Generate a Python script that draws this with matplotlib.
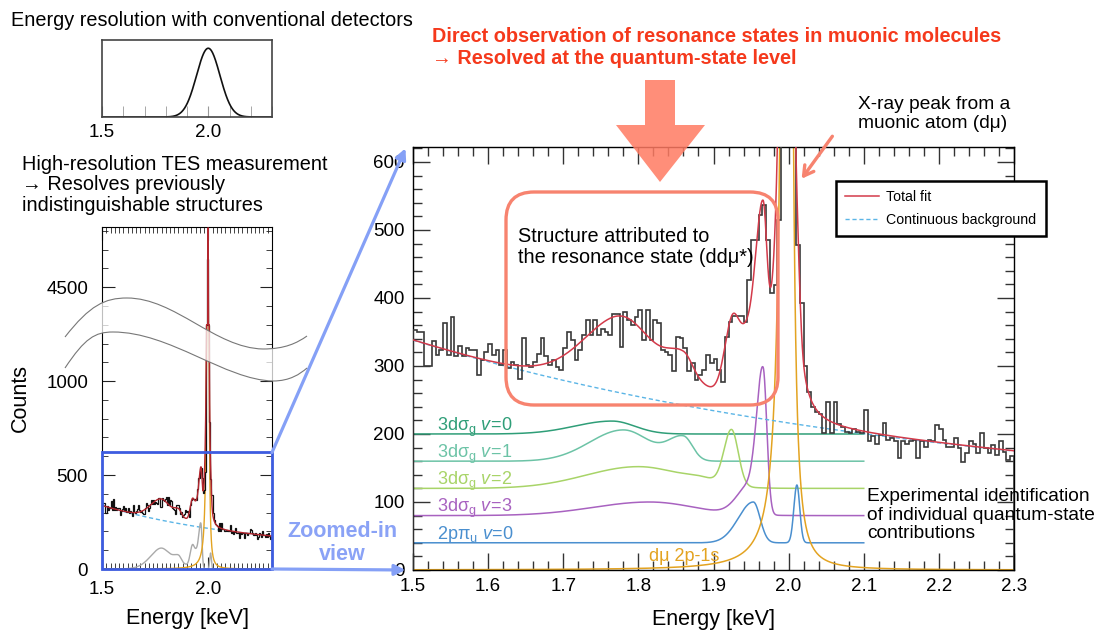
import numpy as np
import matplotlib
matplotlib.use("Agg")
import matplotlib.pyplot as plt
from matplotlib.patches import FancyBboxPatch, Polygon, FancyArrowPatch, PathPatch, Rectangle, ConnectionPatch
from matplotlib.lines import Line2D
from matplotlib.path import Path
from matplotlib.ticker import MultipleLocator, FixedLocator
import matplotlib.transforms as mtransforms

plt.rcParams['font.family'] = ['Liberation Sans', 'DejaVu Sans']
plt.rcParams['mathtext.fontset'] = 'custom'
plt.rcParams['mathtext.rm'] = 'Liberation Sans'
plt.rcParams['mathtext.it'] = 'Liberation Sans:italic'
plt.rcParams['mathtext.bf'] = 'Liberation Sans:bold'

# ---------------- data ----------------
E_MIN, E_MAX, BIN_W = 1.5, 2.3, 0.005
counts = [353, 350, 350, 300, 300, 336, 316, 323, 363, 316,
          372, 314, 330, 314, 327, 323, 323, 287, 309, 320,
          333, 316, 323, 301, 323, 297, 306, 301, 281, 341,
          301, 298, 306, 318, 341, 314, 301, 309, 299, 294,
          327, 350, 338, 309, 323, 345, 367, 345, 368, 345,
          355, 350, 345, 377, 377, 328, 380, 368, 360, 372,
          382, 338, 382, 338, 368, 363, 324, 320, 316, 292,
          343, 341, 326, 292, 304, 279, 287, 294, 316, 304,
          311, 294, 277, 343, 365, 373, 373, 373, 365, 426,
          485, 485, 522, 537, 485, 407, 419, 515, 1900, 4650,
          1850, 780, 478, 392, 300, 262, 240, 233, 230, 201,
          247, 201, 247, 215, 211, 203, 201, 208, 203, 201,
          235, 189, 197, 185, 198, 216, 191, 194, 189, 164,
          189, 186, 189, 191, 164, 189, 181, 191, 189, 213,
          208, 191, 181, 181, 194, 179, 159, 172, 189, 186,
          172, 201, 179, 172, 184, 169, 189, 174, 162, 168]

# continuous background: const + amp * exp(-decay * (E - 1.5))
bkg_const, bkg_amp, bkg_decay = 96.0, 242.0, 1.4

# molecular components: peaks (center, amplitude, sigma_low, sigma_high)
v0_peaks = [(1.765, 19, 0.050, 0.030)]
v1_peaks = [(1.780, 46, 0.045, 0.035), (1.860, 34, 0.020, 0.012)]
v2_peaks = [(1.800, 32, 0.070, 0.060), (1.885, 6, 0.020, 0.020), (1.924, 82, 0.010, 0.009)]
v3_peaks = [(1.815, 20, 0.075, 0.060), (1.950, 45, 0.018, 0.010), (1.966, 205, 0.008, 0.005)]
pi_peaks = [(1.953, 60, 0.020, 0.009), (2.011, 85, 0.0040, 0.0038)]
# muonic atom line: (center, amplitude, hwhm_low, hwhm_high)
dmu_line = (1.9995, 4600, 0.0045, 0.0028)

comp_labels = ["3dσ$_\\mathrm{g}$ $\\mathit{v\\!=\\!0}$", "3dσ$_\\mathrm{g}$ $\\mathit{v\\!=\\!1}$",
               "3dσ$_\\mathrm{g}$ $\\mathit{v\\!=\\!2}$", "3dσ$_\\mathrm{g}$ $\\mathit{v\\!=\\!3}$",
               "2pπ$_\\mathrm{u}$ $\\mathit{v\\!=\\!0}$"]
comp_offsets = [200, 160, 120, 80, 40]
comp_colors = ['#2f9e78', '#6cc3a6', '#a8d468', '#a862c0', '#4a8fcf']
dmu_color = '#e3a321'
COMP_END = 2.1

# conventional detector resolution
res_center, res_sigma = 2.0, 0.055

# ---------------- models ----------------
def split_gauss(E, peaks):
    out = np.zeros_like(E)
    for c, a, sl, sh in peaks:
        s = np.where(E < c, sl, sh)
        out += a * np.exp(-0.5 * ((E - c) / s) ** 2)
    return out

def split_lorentz(E, line):
    c, a, gl, gh = line
    g = np.where(E < c, gl, gh)
    return a * g ** 2 / ((E - c) ** 2 + g ** 2)

def bkg(E):
    return bkg_const + bkg_amp * np.exp(-bkg_decay * (E - E_MIN))

all_peaks = [v0_peaks, v1_peaks, v2_peaks, v3_peaks, pi_peaks]

# ---------------- figure helpers ----------------
W, H = 1110, 635
fig = plt.figure(figsize=(W / 100, H / 100), dpi=100)
pxT = mtransforms.Affine2D().scale(1.0 / W, -1.0 / H).translate(0, 1) + fig.transFigure

def rect(l, t, r, b):
    return [l / W, 1 - b / H, (r - l) / W, (b - t) / H]

def T(x, y, s, **kw):
    return fig.text(x, y, s, transform=pxT, **kw)

edges = np.round(np.arange(len(counts) + 1) * BIN_W + E_MIN, 6)
cnt = np.array(counts, float)

RED = '#d33a4a'
BLUE_BG = '#5bb5e6'
SALMON = '#f7836f'
FS = 14.3

# ---------------- main axes ----------------
ax = fig.add_axes(rect(413, 147, 1014, 570))
Eg = np.linspace(E_MIN, E_MAX, 4001)
Ec = np.linspace(E_MIN, COMP_END, 3001)

for peaks, off, col in zip(all_peaks, comp_offsets, comp_colors):
    ax.plot(Ec, off + split_gauss(Ec, peaks), color=col, lw=1.1, zorder=2)
ax.plot(Eg, split_lorentz(Eg, dmu_line), color=dmu_color, lw=1.1, zorder=2)

ax.plot(Eg, bkg(Eg), color=BLUE_BG, lw=1.0, ls=(0, (3, 2)), zorder=3)
ax.stairs(cnt, edges, color='#3a3a3a', lw=1.2, zorder=4)
total = bkg(Eg) + sum(split_gauss(Eg, p) for p in all_peaks) + split_lorentz(Eg, dmu_line)
ax.plot(Eg, total, color=RED, lw=1.1, zorder=5)

for lab, off, col in zip(comp_labels, comp_offsets, comp_colors):
    ax.text(1.532, off + 5, lab, color=col, fontsize=13, va='baseline', ha='left', zorder=6)
ax.text(1.814, 13, "dμ 2p-1s", color=dmu_color, fontsize=13, va='baseline', ha='left', zorder=6)

ax.set_xlim(E_MIN, E_MAX)
ax.set_ylim(0, 622)
ax.xaxis.set_minor_locator(MultipleLocator(0.02))
ax.yaxis.set_major_locator(MultipleLocator(100))
ax.yaxis.set_minor_locator(MultipleLocator(20))
xt = np.round(np.arange(1.5, 2.31, 0.1), 2)
ax.set_xticks(xt)
ax.set_xticklabels([f"{v:.1f}" for v in xt])
ax.tick_params(which='both', direction='in', top=True, right=True, color='#333333', width=1.0,
               labelsize=13.5)
ax.tick_params(which='major', length=12, pad=6)
ax.tick_params(which='minor', length=6.5)
for sp in ax.spines.values():
    sp.set_linewidth(1.0)
ax.set_xlabel("Energy [keV]", fontsize=15.5, labelpad=10)

# ---------------- left axes (broken scale) ----------------
def fold(v):
    v = np.asarray(v, float)
    return np.where(v <= 1300, v, np.where(v >= 4300, v - 3000, 1300))

axl = fig.add_axes(rect(102, 227, 272, 569))
axl.plot(Eg, bkg(Eg), color=BLUE_BG, lw=1.0, ls=(0, (3, 2)), zorder=2)
grey_sum = sum(split_gauss(Ec, p) for p in all_peaks)
axl.plot(Ec, grey_sum, color='#aaaaaa', lw=1.0, zorder=2)
axl.plot(Eg, fold(split_lorentz(Eg, dmu_line)), color=dmu_color, lw=1.0, zorder=2)
axl.stairs(fold(cnt), edges, color='#111111', lw=0.9, zorder=3)
axl.plot(Eg, fold(total), color='#b3262e', lw=1.0, zorder=4)
axl.set_xlim(E_MIN, E_MAX)
axl.set_ylim(0, 1820)
axl.set_xticks([1.5, 2.0])
axl.set_xticklabels(["1.5", "2.0"])
axl.xaxis.set_minor_locator(MultipleLocator(0.02))
axl.set_yticks([0, 500, 1000, 1500])
axl.set_yticklabels(["0", "500", "1000", "4500"])
axl.yaxis.set_minor_locator(FixedLocator([v for v in range(0, 1801, 100)]))
axl.tick_params(which='both', direction='in', top=True, right=True, color='#222222', labelsize=13.5)
axl.tick_params(which='major', length=9)
axl.tick_params(which='minor', length=4.5)
axl.tick_params(axis='x', which='major', pad=9)
axl.tick_params(axis='y', which='major', pad=10)
axl.set_ylabel("Counts", fontsize=15.5, labelpad=11)
axl.set_xlabel("Energy [keV]", fontsize=15.5, labelpad=7)

# zoom box and connectors
zb = Rectangle((E_MIN, 0), E_MAX - E_MIN, 620, fill=False, ec='#3d5ce0', lw=2.0, zorder=6, clip_on=False)
axl.add_patch(zb)
for yv in (620, 0):
    con = ConnectionPatch(xyA=(E_MAX, yv), coordsA=axl.transData, xyB=(E_MIN - 0.01, yv), coordsB=ax.transData,
                          arrowstyle='-|>', mutation_scale=16, color='#85a0f6', lw=2.3, zorder=7)
    fig.add_artist(con)
T(342, 543, "Zoomed-in\nview", color='#8aa2f6', fontsize=15.5, fontweight='bold', ha='center', va='center',
  linespacing=1.12)

# wavy break band (figure pixel coords)
up = [(65, 337), (90, 305), (105, 298), (127, 298), (175, 298), (215, 348), (263, 349),
      (285, 349), (297, 343), (307, 336)]
lo = [(65, 368), (85, 338), (95, 332), (113, 332), (170, 332), (225, 380), (273, 381),
      (290, 381), (300, 374), (307, 368)]
codes = [Path.MOVETO] + [Path.CURVE4] * 9
band_verts = up + [lo[-1]] + lo[::-1][1:] + [up[0]]
band_codes = [Path.MOVETO] + [Path.CURVE4] * 9 + [Path.LINETO] + [Path.CURVE4] * 9 + [Path.CLOSEPOLY]
fig.add_artist(PathPatch(Path(band_verts, band_codes), transform=pxT, fc='white', ec='none', alpha=0.75, zorder=8))
fig.add_artist(PathPatch(Path(up, codes), transform=pxT, fc='none', ec='#777777', lw=0.8, zorder=9))
fig.add_artist(PathPatch(Path(lo, codes), transform=pxT, fc='none', ec='#777777', lw=0.8, zorder=9))

# ---------------- inset: conventional detector ----------------
axi = fig.add_axes(rect(102, 40, 272, 117))
Ei = np.linspace(E_MIN, E_MAX, 801)
axi.plot(Ei, np.exp(-0.5 * ((Ei - res_center) / res_sigma) ** 2), color='#111111', lw=1.2)
axi.set_xlim(E_MIN, E_MAX)
axi.set_ylim(0, 1.12)
axi.set_yticks([])
axi.set_xticks([1.5, 2.0])
axi.set_xticklabels(["1.5", "2.0"])
axi.xaxis.set_minor_locator(MultipleLocator(0.1))
axi.tick_params(which='both', direction='in', length=8, color='#999999', labelsize=13.5, pad=5)
for sp in axi.spines.values():
    sp.set_color('#444444')
    sp.set_linewidth(1.2)

# ---------------- annotations ----------------
T(11, 20, "Energy resolution with conventional detectors", fontsize=FS, va='center', ha='left')
T(22, 185, "High-resolution TES measurement\n→ Resolves previously\nindistinguishable structures",
  fontsize=FS, va='center', ha='left', linespacing=1.12)
T(432, 47, "Direct observation of resonance states in muonic molecules\n→ Resolved at the quantum-state level",
  fontsize=FS, fontweight='bold', color='#f5391c', va='center', ha='left', linespacing=1.2)
T(518, 247, "Structure attributed to\nthe resonance state (ddμ*)", fontsize=FS, va='center', ha='left',
  linespacing=1.08)
T(858, 114, "X-ray peak from a\nmuonic atom (dμ)", fontsize=13.8, va='center', ha='left', linespacing=1.15)
T(867, 515, "Experimental identification\nof individual quantum-state\ncontributions", fontsize=13.8,
  va='center', ha='left', linespacing=1.1)

# big arrow
fig.add_artist(Polygon([(645, 80), (675, 80), (675, 125), (705, 125), (660, 182), (616, 125), (645, 125)],
                       closed=True, transform=pxT, fc='#ff7a62', ec='none', alpha=0.85, zorder=10))
# rounded rectangle
fig.add_artist(FancyBboxPatch((506, 192), 272, 213, boxstyle='round,pad=0,rounding_size=28', transform=pxT,
                              fc='none', ec=SALMON, lw=2.4, zorder=10))
# arrow to dmu peak
fig.add_artist(FancyArrowPatch((834, 134), (800, 181), transform=pxT, arrowstyle='->,head_length=7,head_width=4',
                               color=SALMON, lw=2.4, mutation_scale=1, zorder=10))

# legend
leg = fig.legend(handles=[Line2D([], [], color=RED, lw=1.1), Line2D([], [], color=BLUE_BG, lw=1.0, ls=(0, (3, 2)))],
                 labels=["Total fit", "Continuous background"], loc='upper left',
                 bbox_to_anchor=(836 / W, 1 - 181 / H), frameon=True, fancybox=False, edgecolor='black',
                 framealpha=1, borderaxespad=0, fontsize=10.2, handlelength=2.4, borderpad=0.65,
                 labelspacing=0.6, handletextpad=0.5)
leg.get_frame().set_linewidth(1.8)
leg.set_zorder(11)

fig.savefig("out.png", dpi=100)
